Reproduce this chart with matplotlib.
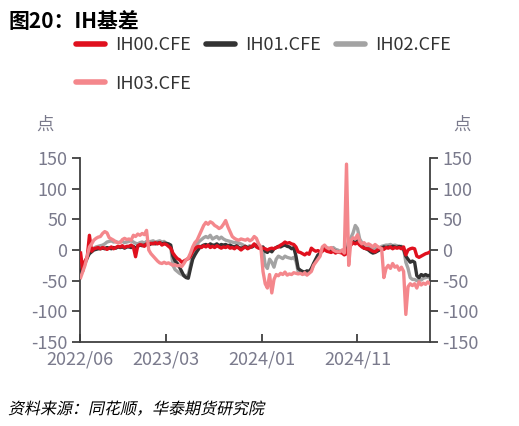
import pandas as pd
import matplotlib
matplotlib.use("Agg")
import matplotlib.pyplot as plt
import matplotlib.dates as mdates
from matplotlib.lines import Line2D
from matplotlib.textpath import TextPath
from matplotlib.patches import PathPatch
from matplotlib.font_manager import FontProperties
from matplotlib.transforms import Affine2D

plt.rcParams['font.family'] = ['Noto Sans CJK SC', 'DejaVu Sans']
plt.rcParams['axes.unicode_minus'] = False

# weekly (Friday) readings, 2022-06-03 .. 2025-06-20
start_date = "2022-06-03"

ih00 = [
    # 2022 Jun-Dec
    -5, -34, -18, -12,
    24, -2, 2, 3, 4,
    2, 4, 3, 1,
    3, 5, 2, 4, 6,
    5, 7, 4, 6,
    6, 8, 5, -11,
    7, 9, 8, 6, 10,
    # 2023
    9, 11, 10, 12,
    10, 12, 8, 10,
    9, 6, 3, -5, -10,
    -14, -16, -20, -18,
    -16, -14, -10, -2,
    2, 5, 6, 4, 7,
    5, 8, 4, 6,
    4, 7, 5, 3,
    5, 4, 6, 3, 4,
    2, 5, 3, 0,
    3, 5, 2, 4,
    6, 10, 5, 3, 2,
    # 2024
    3, 2, 0, 2,
    3, 2, 4, 5,
    8, 10, 13, 11, 12,
    10, 9, 5, -3,
    -4, -6, -8, -5, -7,
    3, 0, -2, -1,
    -3, -2, 1, -2,
    -3, -4, -2, -5, -3,
    -4, -5, -8, -6,
    5, 8, 12, 10,
    12, 8, 5, 3, 2,
    2, 0, -2, -3,
    # 2025
    0, 2, 3, 1, 4,
    3, 5, 2, 4,
    3, 4, 2, 5,
    -8, 0, 2, 3,
    2, -10, -12, -10, -8,
    -6, -5, -3,
]

ih01 = [
    -38, -28, -20, -12,
    -6, -3, 0, 1, 2,
    2, 3, 2, 4,
    3, 2, 4, 3, 5,
    4, 5, 3, 5,
    5, 4, 6, 3,
    6, 8, 7, 8, 9,
    8, 10, 11, 10,
    11, 12, 10, 11,
    11, 10, 8, -10, -18,
    -22, -28, -35, -42,
    -45, -46, -30, -15,
    -8, -2, 3, 6, 8,
    9, 7, 10, 8,
    8, 10, 7, 9,
    8, 9, 7, 8, 6,
    5, 7, 4, 3,
    4, 6, 3, 5,
    5, 8, 7, 5, 3,
    5, -2, -4, 0,
    -3, 2, 4, 6,
    5, 7, 8, 6, 5,
    2, 4, -10, -30,
    -33, -35, -36, -34, -35,
    -30, -22, -15, -8,
    -6, 0, 4, 1,
    2, 1, 0, -2, -3,
    -4, -3, -5, -2,
    8, 10, 14, 12,
    15, 10, 6, 3, 2,
    0, -3, -5, -4,
    -2, 0, 3, 5, 4,
    5, 4, 6, 5,
    4, 6, 5, 1,
    -10, -15, -20, -18,
    -20, -42, -45, -40, -42,
    -40, -42, -41,
]

ih02 = [
    -40, -30, -22, -14,
    -4, 0, 3, 5, 6,
    7, 8, 10, 13,
    14, 15, 13, 14, 12,
    13, 14, 12, 13,
    14, 15, 13, 11,
    10, 12, 13, 11, 14,
    13, 14, 15, 13,
    14, 15, 13, 14,
    10, 8, 5, -25, -32,
    -35, -38, -40, -42,
    -42, -40, -25, -8,
    3, 10, 14, 17, 20,
    22, 20, 24, 18,
    20, 22, 18, 21,
    18, 16, 15, 14, 13,
    12, 13, 11, 10,
    8, 6, 5, 7,
    5, 7, 9, 6, 4,
    2, -25, -30, -15,
    -20, -28, -15, -10,
    -12, -14, -10, -12, -13,
    -14, -12, -18, -35,
    -37, -38, -39, -37, -36,
    -33, -24, -17, -10,
    -5, 2, 6, 3,
    3, 2, 4, 1, 0,
    -2, -1, 0, 2,
    15, 20, 28, 40,
    35, 18, 12, 8, 6,
    5, 3, 0, 2,
    4, 3, 6, 7, 8,
    8, 9, 7, 8,
    7, 5, 6, 3,
    -20, -30, -45, -48,
    -48, -50, -47, -49, -46,
    -45, -44, -46,
]

ih03 = [
    -45, -35, -25, -10,
    5, 10, 16, 19, 21,
    22, 27, 30, 28,
    20, 18, 16, 13, 12,
    12, 17, 19, 17,
    18, 16, 24, 22,
    26, 24, 27, 25, 32,
    0, -6, -10, -14,
    -18, -21, -22, -20,
    -22, -21, -23, -25, -24,
    -26, -25, -27, -22,
    -16, -13, -5, 5,
    12, 16, 24, 32, 40,
    45, 42, 46, 44,
    40, 38, 35, 37,
    42, 48, 38, 30, 22,
    19, 17, 16, 18,
    17, 16, 18, 15,
    17, 22, 19, 10, 5,
    -35, -55, -62, -40,
    -70, -48, -40, -42,
    -38, -40, -36, -41, -39,
    -40, -37, -38, -39,
    -38, -40, -37, -41, -38,
    -35, -25, -20, -15,
    -10, 5, 8, 4,
    2, 4, 0, -2, -3,
    -3, 0, -5, 140,
    -25, 15, 20, 18,
    25, 14, 10, 12, 8,
    10, 8, 5, 9,
    6, 4, 2, -45, -30,
    -25, -30, -22, -28,
    -26, -33, -28, -35,
    -105, -60, -55, -58,
    -55, -62, -52, -57, -54,
    -56, -52, -55,
]

names = ['IH00.CFE', 'IH01.CFE', 'IH02.CFE', 'IH03.CFE']
colors = ['#E0101E', '#333333', '#A3A3A3', '#F4878C']
tick_dates = ['2022-06-01', '2023-03-01', '2024-01-01', '2024-11-01']

dates = pd.date_range(start_date, periods=len(ih00), freq='W-FRI')
df = pd.DataFrame({'IH00.CFE': ih00, 'IH01.CFE': ih01,
                   'IH02.CFE': ih02, 'IH03.CFE': ih03}, index=dates)

fig = plt.figure(figsize=(5.19, 4.26), dpi=100)
ax = fig.add_axes([80 / 519, 1 - 342 / 426, 350 / 519, 184 / 426])

zorders = {'IH02.CFE': 2, 'IH01.CFE': 3, 'IH00.CFE': 4, 'IH03.CFE': 5}
for name, c in zip(names, colors):
    ax.plot(df.index, df[name], color=c, lw=2.4, zorder=zorders[name])

ax.set_xlim(pd.Timestamp('2022-06-01'), pd.Timestamp('2025-06-20'))
ax.set_ylim(-150, 150)
ax.set_yticks(range(-150, 151, 50))
ax.set_xticks(pd.to_datetime(tick_dates))
ax.xaxis.set_major_formatter(mdates.DateFormatter('%Y/%m'))

axis_col = '#404040'
label_col = '#7A7A8C'
ax.spines['top'].set_visible(False)
for s in ['left', 'right', 'bottom']:
    ax.spines[s].set_color(axis_col)
    ax.spines[s].set_linewidth(1.3)
ax.tick_params(axis='y', direction='out', length=6, width=1.3, color=axis_col,
               labelsize=13, labelcolor=label_col, left=True, right=True,
               labelleft=True, labelright=True, pad=3)
ax.tick_params(axis='x', direction='in', length=6, width=1.3, color=axis_col,
               labelsize=13, labelcolor=label_col, pad=6)

fig.text(45 / 519, 1 - 125 / 426, '点', fontsize=12.5, color=label_col, ha='center', va='center')
fig.text(462 / 519, 1 - 125 / 426, '点', fontsize=12.5, color=label_col, ha='center', va='center')

fig.text(8 / 519, 1 - 21 / 426, '图20：IH基差', fontsize=15, fontweight='bold',
         color='black', ha='left', va='center')

# legend fills column-wise, so order it to read IH00 IH01 IH02 / IH03
handles = [Line2D([], [], color=c, lw=4, solid_capstyle='round') for c in colors]
order = [0, 3, 1, 2]
fig.legend([handles[i] for i in order], [names[i] for i in order],
           loc='upper left', bbox_to_anchor=(76 / 519, 1 - 36 / 426),
           ncol=3, frameon=False, fontsize=13, handlelength=1.6, handletextpad=0.55,
           columnspacing=0.85, labelspacing=1.15, borderpad=0, borderaxespad=0,
           labelcolor='#333333')

# source note, slanted like the original
fp = FontProperties(family='Noto Sans CJK SC')
tp = TextPath((0, 0), '资料来源：同花顺，华泰期货研究院', size=16, prop=fp)
src = PathPatch(tp, transform=Affine2D().skew_deg(12, 0).translate(8, 426 - 414),
                color='black', lw=0)
fig.add_artist(src)

fig.savefig('out.png', dpi=100)
